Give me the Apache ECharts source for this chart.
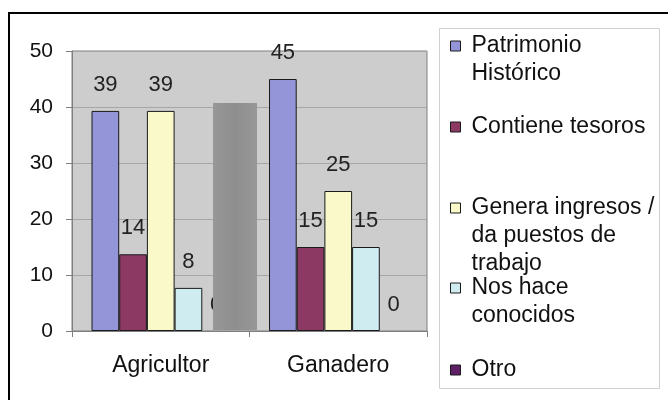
<!DOCTYPE html>
<html>
<head>
<meta charset="utf-8">
<script src="https://cdn.jsdelivr.net/npm/echarts@6/dist/echarts.min.js"></script>
<style>
  html, body { margin: 0; padding: 0; background: #fff; }
  #chart { width: 668px; height: 400px; }
</style>
</head>
<body>
<div id="chart"></div>
<script>
// categorias y series
var categories = ['Agricultor', 'Ganadero'];
var seriesNames = [
  'Patrimonio\nHistórico',
  'Contiene tesoros',
  'Genera ingresos /\nda puestos de\ntrabajo',
  'Nos hace\nconocidos',
  'Otro'
];
var patrimonio = [39.3, 45];
var tesoros = [13.7, 15];
var ingresos = [39.3, 25];
var conocidos = [7.7, 15];
var otro = [0, 0];
var yTicks = [0, 10, 20, 30, 40, 50];

var seriesValues = [patrimonio, tesoros, ingresos, conocidos, otro];
var colors = ['#9494d8', '#8c3a64', '#f9f9c9', '#cfedf1', '#5e1f66'];
// centro de la primera linea de cada leyenda (px)
var legendLineY = [46, 127, 208, 288, 370];
var lineH = 28;

var chart = echarts.init(document.getElementById('chart'));

var series = seriesNames.map(function (name, i) {
  return {
    name: name,
    type: 'bar',
    data: seriesValues[i],
    barGap: '0%',
    barCategoryGap: '22%',
    itemStyle: {
      color: colors[i],
      borderColor: '#1a1a1a',
      // las barras en cero no dejan raya en Excel
      borderWidth: i === 4 ? 0 : 1
    },
    label: {
      show: true,
      position: 'top',
      distance: 15,
      fontFamily: 'Liberation Sans',
      fontSize: 22,
      color: '#222',
      formatter: function (p) { return Math.round(p.value); }
    }
  };
});

// una leyenda por serie; lineas vacias delante para que el icono
// quede a la altura de la primera linea del texto
var legends = seriesNames.map(function (name, i) {
  var n = name.split('\n').length;
  return {
    data: [name],
    orient: 'vertical',
    left: 450,
    top: legendLineY[i] - (2 * n - 1) * lineH / 2,
    padding: 0,
    selectedMode: false,
    icon: 'rect',
    itemWidth: 10,
    itemHeight: 10,
    itemStyle: { borderColor: '#1a1a1a', borderWidth: 1 },
    formatter: function (nm) {
      var pre = '';
      for (var k = 1; k < n; k++) pre += '\n';
      return pre + nm;
    },
    textStyle: {
      fontFamily: 'Liberation Sans',
      fontSize: 23,
      lineHeight: lineH,
      color: '#111',
      padding: [0, 0, 0, 6]
    }
  };
});

var option = {
  backgroundColor: '#fff',
  animation: false,
  color: colors,
  grid: {
    left: 72,
    top: 51,
    right: 241,
    bottom: 69,
    show: true,
    backgroundColor: '#cdcdcd',
    borderColor: '#7f7f7f',
    borderWidth: 1
  },
  legend: legends,
  xAxis: {
    type: 'category',
    data: categories,
    axisLine: { lineStyle: { color: '#7f7f7f' } },
    axisTick: { show: true, length: 6, lineStyle: { color: '#7f7f7f' } },
    axisLabel: {
      margin: 23,
      fontFamily: 'Liberation Sans',
      fontSize: 23,
      color: '#111'
    }
  },
  yAxis: {
    type: 'value',
    min: yTicks[0],
    max: yTicks[yTicks.length - 1],
    interval: 10,
    axisLine: { show: true, lineStyle: { color: '#7f7f7f' } },
    axisTick: { show: true, length: 6, lineStyle: { color: '#7f7f7f' } },
    axisLabel: {
      margin: 19,
      fontFamily: 'Liberation Sans',
      fontSize: 21,
      color: '#111'
    },
    splitLine: { lineStyle: { color: '#a6a6a6' } }
  },
  series: series,
  graphic: [
    // marco exterior
    {
      type: 'rect', z: -10,
      shape: { x: 9, y: 13, width: 700, height: 420 },
      style: { fill: 'none', stroke: '#000', lineWidth: 2 }
    },
    // caja de la leyenda
    {
      type: 'rect', z: -10,
      shape: { x: 439.5, y: 28.5, width: 220, height: 360 },
      style: { fill: '#fff', stroke: '#d0d0d0', lineWidth: 1 }
    },
    // mancha gris sobre el grafico
    {
      type: 'rect', z: 100,
      shape: { x: 213, y: 103, width: 44, height: 227 },
      style: {
        fill: new echarts.graphic.LinearGradient(0, 0, 1, 0, [
          { offset: 0, color: '#979797' },
          { offset: 0.5, color: '#8e8e8e' },
          { offset: 1, color: '#979797' }
        ])
      }
    }
  ]
};

chart.setOption(option);
</script>
</body>
</html>
